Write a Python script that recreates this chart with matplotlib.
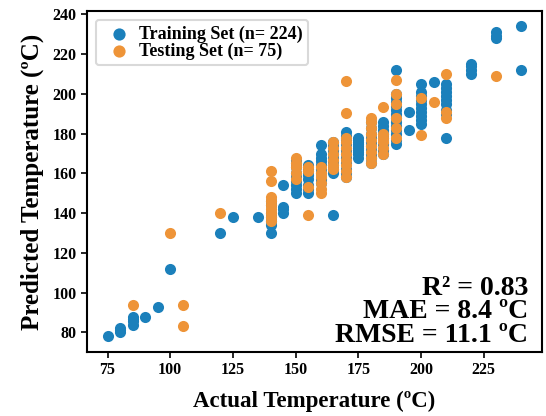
import matplotlib
matplotlib.use("Agg")
import matplotlib.pyplot as plt

plt.rcParams['font.family'] = ['Liberation Serif', 'DejaVu Serif']
plt.rcParams['font.weight'] = 'bold'

# Training set (actual, predicted)
train_x = [75, 80, 80, 80, 85, 85, 85, 85, 90, 95, 100, 120, 125, 135,
           140, 140, 140, 140, 140, 140, 140,
           145, 145, 145, 145,
           150, 150, 150, 150, 150, 150, 150, 150, 150,
           155, 155, 155, 155, 155, 155, 155, 155,
           160, 160, 160, 160, 160, 160, 160, 160, 160,
           165, 165, 165, 165, 165, 165, 165, 165, 165, 165,
           170, 170, 170, 170, 170, 170, 170, 170, 170, 170, 170,
           175, 175, 175, 175, 175, 175, 175, 175, 175, 175,
           180, 180, 180, 180, 180, 180, 180, 180, 180, 180,
           185, 185, 185, 185, 185, 185, 185, 185,
           190, 190, 190, 190, 190, 190, 190, 190, 190, 190, 190, 190, 190, 190,
           195, 195,
           200, 200, 200, 200, 200, 200, 200, 200, 200, 200,
           205,
           210, 210, 210, 210, 210, 210, 210, 210, 210,
           220, 220, 220, 220,
           230, 230, 230,
           240, 240]
train_y = [78, 80, 81, 82, 84, 86, 87, 88, 88, 93, 112, 130, 138, 138,
           130, 134, 136, 138, 140, 144, 146,
           140, 142, 143, 154,
           150, 152, 154, 156, 158, 160, 163, 165, 167,
           150, 152, 154, 157, 159, 161, 162, 164,
           155, 157, 160, 162, 164, 166, 168, 170, 174.5,
           139, 160, 162, 164, 166, 168, 170, 172, 174, 176,
           158, 160, 162, 165, 168, 170, 172, 175, 177, 179, 181,
           168, 170, 171, 172, 173, 174, 175, 176, 177, 178,
           165, 168, 170, 172, 174, 176, 178, 180, 183, 186,
           170, 172, 175, 178, 180, 182, 184, 186,
           175, 177, 180, 182, 184, 186, 188, 190, 192, 194, 196, 198, 200, 212,
           182, 191,
           185, 187, 189, 191, 193, 195, 197, 199, 201, 205,
           206,
           178, 190, 192, 195, 197, 199, 201, 203, 205,
           210, 212, 214, 215,
           228, 229, 231,
           212, 234]

# Testing set (actual, predicted)
test_x = [85, 100, 105, 105, 120,
          140, 140, 140, 140, 140, 140, 140, 140, 140,
          150, 150, 150, 150, 150,
          155, 155, 155, 155,
          160, 160, 160, 160, 160, 160,
          165, 165, 165, 165, 165, 165,
          170, 170, 170, 170, 170, 170, 170, 170, 170, 170,
          180, 180, 180, 180, 180, 180, 180, 180, 180,
          185, 185, 185, 185, 185, 185,
          190, 190, 190, 190, 190, 190,
          200, 200, 205,
          210, 210, 210,
          230]
test_y = [94, 130, 83, 94, 140,
          136, 138, 140, 142, 144, 146, 148, 156, 161,
          157, 160, 163, 165, 168,
          139, 153, 161, 163,
          150, 152, 155, 158, 160, 163,
          162, 164, 167, 170, 173, 176,
          158, 161, 164, 167, 170, 173, 176, 178, 190.5, 206.5,
          165, 168, 171, 174, 177, 180, 183, 186, 188,
          170, 173, 176, 178, 180, 193.5,
          178, 183, 188, 195, 200, 207,
          179.5, 198, 196,
          188, 191, 210,
          209]

train_label = "Training Set (n= 224)"
test_label = "Testing Set (n= 75)"
xlabel = "Actual Temperature (ºC)"
ylabel = "Predicted Temperature (ºC)"
metrics = ["R² = 0.83", "MAE = 8.4 ºC", "RMSE = 11.1 ºC"]

blue = '#1b80bb'
orange = '#ee9438'

fig = plt.figure(figsize=(5.46, 4.16), dpi=100)
ax = fig.add_axes([0.159, 0.154, 0.834, 0.820])

ax.scatter(train_x, train_y, s=64, color=blue, linewidths=0,
           label=train_label, zorder=2)
ax.scatter(test_x, test_y, s=64, color=orange, linewidths=0,
           label=test_label, zorder=3)

ax.set_xticks([75, 100, 125, 150, 175, 200, 225])
ax.set_yticks([80, 100, 120, 140, 160, 180, 200, 220, 240])
ax.tick_params(axis='both', labelsize=11.5, width=1.2, length=4, direction='out')
for lbl in ax.get_xticklabels() + ax.get_yticklabels():
    lbl.set_fontweight('bold')
for sp in ax.spines.values():
    sp.set_linewidth(1.5)
    sp.set_color('black')

ax.set_xlabel(xlabel, fontsize=16.5, fontweight='bold', labelpad=9)
ax.set_ylabel(ylabel, fontsize=18, fontweight='bold', labelpad=6)

leg = ax.legend(loc='upper left', prop={'weight': 'bold', 'size': 13},
                handletextpad=0.1, labelspacing=0.0, borderpad=0.3,
                borderaxespad=0.5, frameon=True, fancybox=True, markerscale=1.1)
leg.get_frame().set_edgecolor('#d0d0d0')
leg.get_frame().set_linewidth(1.5)

ax.text(0.969, 0.012, "\n".join(metrics), transform=ax.transAxes, ha='right',
        va='bottom', multialignment='right', linespacing=0.93,
        fontsize=20, fontweight='bold')

fig.savefig('out.png', dpi=100)
